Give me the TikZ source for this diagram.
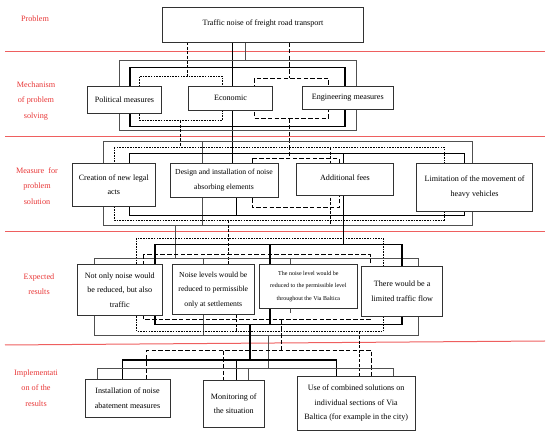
\documentclass[tikz,border=0pt]{standalone}
\usepackage{fontspec}
\setmainfont{Liberation Serif}
\usetikzlibrary{backgrounds}
\definecolor{redlab}{RGB}{232,55,55}
\definecolor{redline}{RGB}{238,95,95}
\definecolor{boxc}{RGB}{50,50,50}
\definecolor{thinc}{RGB}{80,80,80}
\tikzset{
  box/.style={draw=boxc, line width=0.7pt, fill=white, inner sep=0pt, align=center,
              font=\fontsize{8.1}{14.5}\selectfont},
  narrowbox/.style={box, font=\fontsize{7.7}{14.5}\selectfont},
  smallbox/.style={box, font=\fontsize{6}{12.3}\selectfont},
  thinl/.style={draw=thinc, line width=0.5pt},
  thickl/.style={draw=black, line width=1.2pt},
  sdash/.style={draw=black, line width=0.55pt, dash pattern=on 1.6pt off 1.1pt},
  mdash/.style={draw=black, line width=0.55pt, dash pattern=on 3pt off 1.6pt},
  ldash/.style={draw=black, line width=0.75pt, dash pattern=on 4.5pt off 2.2pt},
  redrule/.style={draw=redline, line width=1pt},
  lab/.style={text=redlab, align=center, font=\fontsize{8.2}{15.3}\selectfont},
}
\newcommand\BoxAt[7]{\node[#1, minimum width={(#5-#3)*1pt}, minimum height={(#6-#4)*1pt}] (#2) at ({(#3+#5)/2},{(#4+#6)/2}) {#7};}
\begin{document}
\begin{tikzpicture}[x=1pt,y=-1pt]
\useasboundingbox (0,0) rectangle (550,446);

% ---------- boxes ----------
\BoxAt{box}{prob}{162.7}{7.3}{363.3}{42.3}{\raisebox{3.5pt}{Traffic noise of freight road transport}}
\BoxAt{box}{pol}{87.3}{86}{161.7}{113.3}{Political measures}
\BoxAt{box}{eco}{188.3}{86}{272.7}{110}{Economic}
\BoxAt{box}{eng}{302.3}{86}{393.3}{109.3}{Engineering measures}
\BoxAt{box}{cre}{72.6}{163}{155}{206}{Creation of new legal\\acts}
\BoxAt{narrowbox}{des}{170}{163}{278}{197.7}{Design and installation of noise\\absorbing elements}
\BoxAt{box}{add}{296.7}{163}{393.3}{195.7}{\raisebox{2.5pt}{Additional fees}}
\BoxAt{box}{lim}{416.7}{163}{532.6}{211}{Limitation of the movement of\\heavy vehicles}
\BoxAt{box}{not}{77.3}{264}{162.3}{315.7}{Not only noise would\\be reduced, but also\\traffic}
\BoxAt{narrowbox}{lev}{172.3}{264.7}{254.3}{314.7}{Noise levels would be\\reduced to permissible\\only at settlements}
\BoxAt{smallbox}{tnl}{259}{264.7}{357.7}{308}{The noise level would be\\reduced to the permissible level\\throughout the Via Baltica}
\BoxAt{box}{thr}{361.7}{266.3}{442.7}{316.3}{There would be a\\limited traffic flow}
\BoxAt{box}{ins}{85}{379.3}{170}{417.3}{Installation of noise\\abatement measures}
\BoxAt{box}{mon}{203.3}{380}{264.3}{427.3}{Monitoring of\\the situation}
\BoxAt{box}{use}{297.3}{376.7}{415}{430}{Use of combined solutions on\\individual sections of Via\\Baltica (for example in the city)}

% ---------- row labels ----------
\node[lab] (l1) at (35,19) {Problem};
\node[lab] (l2) at (36,101) {Mechanism\\of problem\\solving};
\node[lab] (l3) at (37,186) {Measure\ \ for\\problem\\solution};
\node[lab] (l4) at (39,284) {Expected\\results};
\node[lab] (l5) at (36,388) {Implementati\\on of the\\results};

\begin{scope}[on background layer]
% red rules
\draw[redrule] (5,52) -- (545,52);
\draw[redrule] (5,137) -- (545,137);
\draw[redrule] (5,232) -- (545,232);
\draw[redrule] (5,345) -- (545,341);

% mechanism
\draw[mdash] (187.3,42.3) -- (187.3,76.7);
\draw[thickl] (232.7,42.3) -- (232.7,163);
\draw[thinl] (245,42.3) -- (245,60.7);
\draw[ldash] (289.3,42.3) -- (289.3,78.3);
\draw[thinl] (119.3,60.7) rectangle (356.7,130);
\draw[thickl] (130,67.7) rectangle (345,126.7);
\draw[sdash] (139.3,76.7) rectangle (222.7,120);
\draw[ldash] (254.3,78.3) rectangle (328.3,118.3);
\draw[mdash] (180.7,120) -- (180.7,147);
\draw[ldash] (289.3,118.3) -- (289.3,158.3);

% measures
\draw[thinl] (103.3,141.7) rectangle (472.7,225);
\draw[thinl] (202.7,141.7) -- (202.7,225);
\draw[thickl] (129.5,153.3) rectangle (464.5,215.7);
\draw[thickl] (343.3,153.3) -- (343.3,244.7);
\draw[thickl] (236.7,197.7) -- (236.7,215.7);
\draw[sdash] (114,147) rectangle (444,220);
\draw[ldash] (252,158.3) rectangle (339,207.7);
\draw[mdash] (330,147) -- (330,225);
\draw[thinl] (175,225) -- (175,258);
\draw[mdash] (228.5,220) -- (228.5,264.7);

% expected results
\draw[thinl] (94.5,258) rectangle (418.5,335.3);
\draw[thinl] (203.3,258) -- (203.3,335.3);
\draw[thinl] (290,258) -- (290,313);
\draw[thickl] (155,244.7) rectangle (402,324.7);
\draw[thickl] (270,244.7) -- (270,324.7);
\draw[sdash] (136.7,238) rectangle (383.3,331.5);
\draw[ldash] (143.3,254.7) rectangle (370.5,319.7);
\draw[mdash] (236.7,314.7) -- (236.7,331.5);
\draw[thickl] (250,324.7) -- (250,360);
\draw[ldash] (281.7,319.7) -- (281.7,350.7);
\draw[mdash] (359,331.5) -- (359,376.7);
\draw[thinl] (268.3,335.3) -- (268.3,368);

% implementation
\draw[ldash] (146.7,379.3) -- (146.7,350.7) -- (371.7,350.7) -- (371.7,376.7);
\draw[ldash] (223.3,350.7) -- (223.3,380);
\draw[thickl] (122.3,379.3) -- (122.3,360) -- (336.7,360) -- (336.7,376.7);
\draw[thickl] (236.7,360) -- (236.7,380);
\draw[thinl] (97.3,379.3) -- (97.3,368) -- (393.3,368) -- (393.3,376.7);
\draw[thinl] (248.3,368) -- (248.3,380);
\end{scope}
\end{tikzpicture}
\end{document}
